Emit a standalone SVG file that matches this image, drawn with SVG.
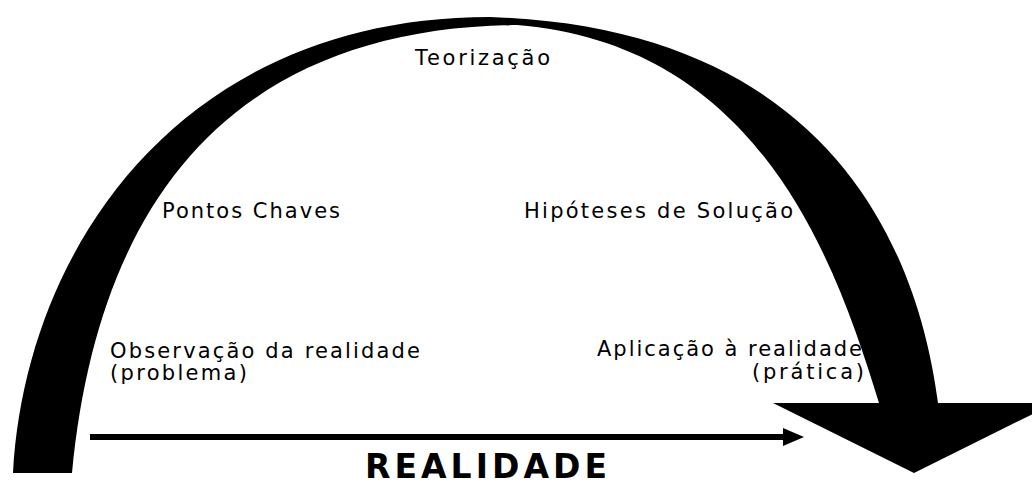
<svg xmlns="http://www.w3.org/2000/svg" width="1032" height="485" viewBox="0 0 1032 485">
  <style>
    .lbl { font-family: "DejaVu Sans", "Liberation Sans", sans-serif; font-size: 21px; fill: #000; }
    .title { font-family: "DejaVu Sans", "Liberation Sans", sans-serif; font-size: 33px; font-weight: bold; fill: #000; }
  </style>
  <defs>
    <marker id="head" markerUnits="userSpaceOnUse" markerWidth="22" markerHeight="18" refX="2" refY="9" orient="auto">
      <path d="M0,0 L21,9 L0,18 Z" fill="#000"/>
    </marker>
  </defs>
  <rect width="1032" height="485" fill="#fff"/>
  <g id="cycle-arrow">
    <path d="M13,473 C25,250 180,17 490,17 C830,28 918,250 938,403 L1055,403 L914,473 L773,403 L879,403 C835,260 760,45 517,25 C250,28 100,180 72,473 Z" fill="#000"/>
  </g>
  <g id="connectors">
    <line x1="90" y1="437" x2="785" y2="437" stroke="#000" stroke-width="6" marker-end="url(#head)"/>
  </g>
  <g id="teorizacao">
    <text class="lbl" x="415" y="65" textLength="135" lengthAdjust="spacing">Teorização</text>
  </g>
  <g id="pontos-chaves">
    <text class="lbl" x="162" y="218" textLength="178" lengthAdjust="spacing">Pontos Chaves</text>
  </g>
  <g id="hipoteses">
    <text class="lbl" x="524" y="218" textLength="269" lengthAdjust="spacing">Hipóteses de Solução</text>
  </g>
  <g id="observacao">
    <text class="lbl" x="110" y="358" textLength="310" lengthAdjust="spacing">Observação da realidade</text>
    <text class="lbl" x="110" y="380" textLength="137" lengthAdjust="spacing">(problema)</text>
  </g>
  <g id="aplicacao">
    <text class="lbl" x="597" y="356" textLength="265" lengthAdjust="spacing">Aplicação à realidade</text>
    <text class="lbl" x="752" y="379" textLength="112" lengthAdjust="spacing">(prática)</text>
  </g>
  <g id="realidade">
    <text class="title" x="365" y="478" textLength="242" lengthAdjust="spacing">REALIDADE</text>
  </g>
</svg>
